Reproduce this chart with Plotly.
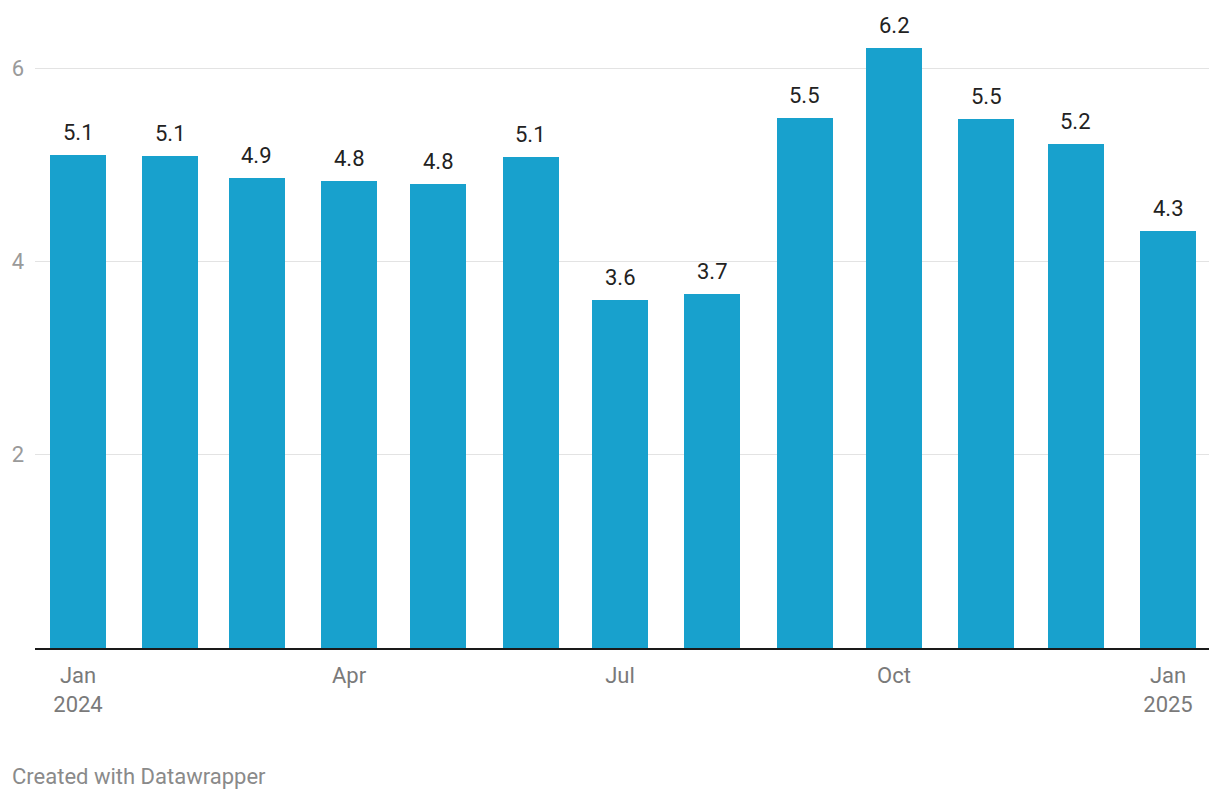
import plotly.graph_objects as go
from datetime import datetime, timedelta

months = ["2024-01-01", "2024-02-01", "2024-03-01", "2024-04-01", "2024-05-01",
          "2024-06-01", "2024-07-01", "2024-08-01", "2024-09-01", "2024-10-01",
          "2024-11-01", "2024-12-01", "2025-01-01"]
values = [5.10, 5.09, 4.86, 4.83, 4.80, 5.08, 3.60, 3.66, 5.48, 6.21, 5.47, 5.21, 4.31]
tick_vals = ["2024-01-01", "2024-04-01", "2024-07-01", "2024-10-01", "2025-01-01"]
tick_text = ["Jan<br>2024", "Apr", "Jul", "Oct", "Jan<br>2025"]

FONT = "Roboto"
px_per_day = (1168 - 78) / 366.0
bar_days = 56 / px_per_day

fig = go.Figure()
fig.add_trace(go.Bar(
    x=months, y=values,
    width=[bar_days * 86400000] * len(values),
    marker=dict(color="#18a1cd", line=dict(width=0)),
    hoverinfo="x+y",
))

for m, v in zip(months, values):
    fig.add_annotation(x=m, y=v, text=f"{v:.1f}", showarrow=False,
                       yanchor="bottom", yshift=8,
                       font=dict(family=FONT, size=22, color="#222222"))

start = datetime(2024, 1, 1) - timedelta(days=43 / px_per_day)
end = datetime(2025, 1, 1) + timedelta(days=41 / px_per_day)

# page body has an 8px margin; figure sits at (8, 8)
OFF = 8
plot_top = 20
y_max = (648 - plot_top) / ((648 - 68) / 6.0)

fig.update_layout(
    width=1220 - OFF, height=800 - OFF,
    margin=dict(l=35 - OFF, r=11, t=plot_top - OFF, b=152, autoexpand=False),
    paper_bgcolor="white", plot_bgcolor="white",
    showlegend=False,
    bargap=0,
    xaxis=dict(
        type="date", range=[start, end], automargin=False,
        tickmode="array", tickvals=tick_vals, ticktext=tick_text,
        showgrid=False, showline=True, linecolor="#1a1a1a", linewidth=2,
        ticks="", ticklabelstandoff=7,
        tickfont=dict(family=FONT, size=22, color="#7a7a7a"),
        zeroline=False,
    ),
    yaxis=dict(
        range=[0, y_max], tickmode="array", tickvals=[2, 4, 6],
        ticktext=["2", "4", "6"], automargin=False,
        showgrid=True, gridcolor="#e3e3e3", gridwidth=1,
        zeroline=False, showline=False, ticks="",
        ticklabelstandoff=10,
        tickfont=dict(family=FONT, size=22, color="#9a9a9a"),
    ),
)

fig.add_annotation(xref="paper", yref="paper",
                   x=(10 - 35) / 1174.0, y=(648 - 776) / 628.0,
                   text="Created with Datawrapper", showarrow=False,
                   xanchor="left", yanchor="middle",
                   font=dict(family=FONT, size=22, color="#8a8a8a"))

fig.write_html("out.html")
